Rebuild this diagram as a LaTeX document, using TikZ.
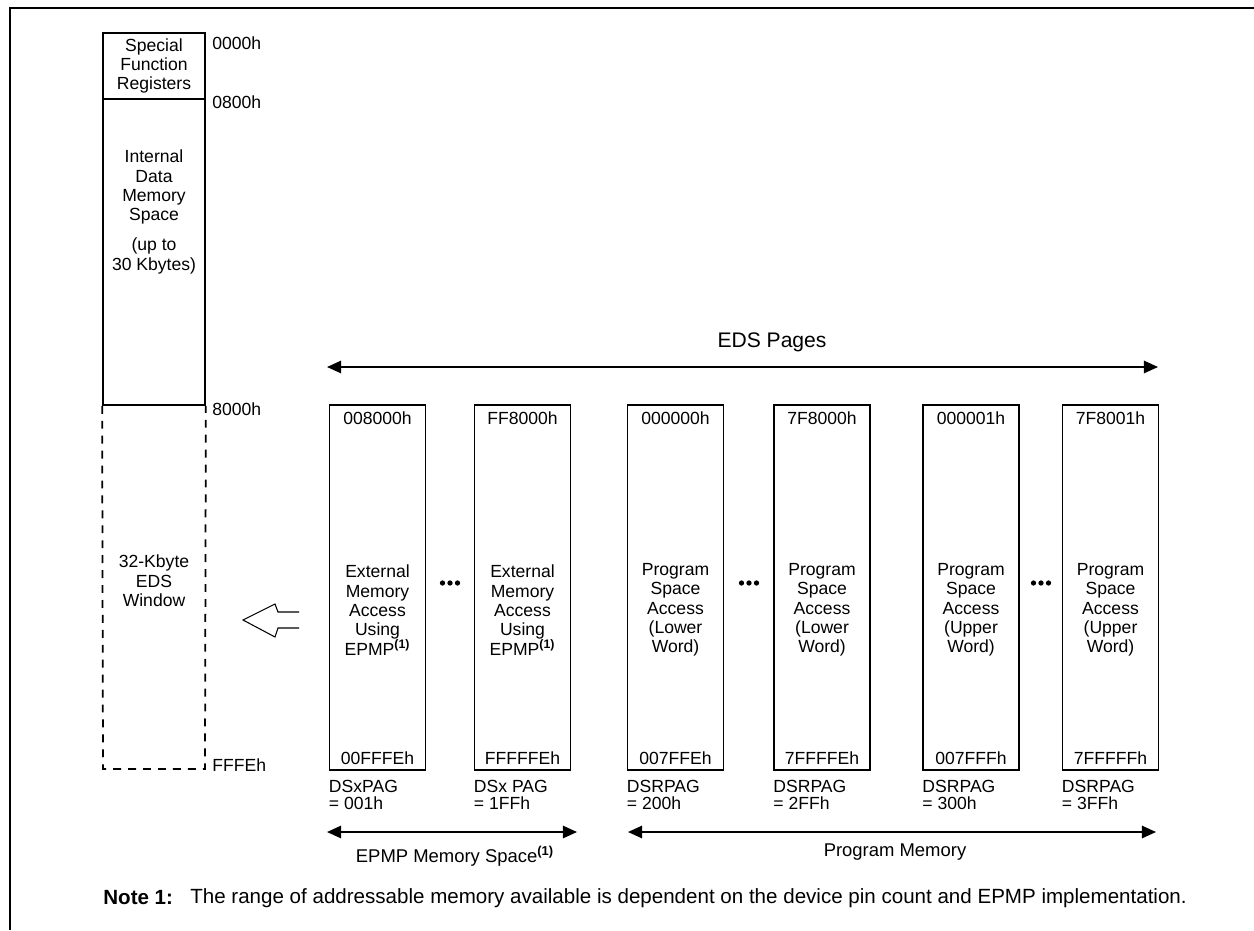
\documentclass[tikz,border=0pt]{standalone}
\usepackage{fontspec}
\setmainfont{Liberation Sans}
\usetikzlibrary{arrows.meta,positioning}

\tikzset{
  memblock/.style={draw, line width=1pt, minimum width=1.92cm, minimum height=7.3cm, inner sep=0pt},
  datablock/.style={draw, line width=1pt, minimum width=2.04cm, inner sep=0pt},
  addr/.style={inner sep=0pt, font=\fontsize{10}{11}\selectfont},
  blocktext/.style={align=center, inner sep=0pt, font=\fontsize{10}{11}\selectfont},
  regtext/.style={align=left, inner sep=0pt, anchor=north west, font=\fontsize{10}{9.8}\selectfont},
  pagespan/.style={line width=1.1pt, {Triangle[length=8pt,width=7pt]}-{Triangle[length=8pt,width=7pt]}},
  spantext/.style={inner sep=0pt, font=\fontsize{10.5}{12}\selectfont},
}

\begin{document}
\begin{tikzpicture}[x=0.02cm,y=-0.02cm]
  \useasboundingbox (0,0) rectangle (1254,930);
  % frame
  \draw[line width=1.2pt] (10,930) -- (10,8) -- (1254,8);

  % data memory
  \node[datablock, minimum height=1.32cm] (sfr) at (154,66) {};
  \node[blocktext] (sfrtext) at (sfr) {Special\\Function\\Registers};
  \node[datablock, minimum height=6.12cm] (intmem) at (154,252) {};
  \node[blocktext] (intmemtext) at (154,212) {Internal\\Data\\Memory\\Space\\[6pt](up to\\30 Kbytes)};
  \draw[line width=1pt, dash pattern=on 4.5pt off 4pt] (intmem.south west) -- (103,769) -- (205,769) -- (intmem.south east);
  \node[blocktext] (window) at (154,581) {32-Kbyte\\EDS\\Window};

  \node[addr, anchor=west] (a0000) at (212,43) {0000h};
  \node[addr, anchor=west] (a0800) at (212,102) {0800h};
  \node[addr, anchor=west] (a8000) at (212,409) {8000h};
  \node[addr, anchor=west] (afffe) at (212,765) {FFFEh};

  % open arrow into the window
  \draw[line width=0.6pt] (299,612) -- (278,612) -- (275,604) -- (243,620) -- (275,637) -- (278,628) -- (299,628);

  % EDS pages
  \foreach \px/\pname/\ptop/\pbot/\ptxt/\preg in {
    377.5/epmpA/008000h/00FFFEh/{External\\Memory\\Access\\Using\\EPMP\textsuperscript{\bfseries(1)}}/{DSxPAG\\= 001h},
    522.5/epmpB/FF8000h/FFFFFEh/{External\\Memory\\Access\\Using\\EPMP\textsuperscript{\bfseries(1)}}/{DSx PAG\\= 1FFh},
    675.5/lowA/000000h/007FFEh/{Program\\Space\\Access\\(Lower\\Word)}/{DSRPAG\\= 200h},
    822/lowB/7F8000h/7FFFFEh/{Program\\Space\\Access\\(Lower\\Word)}/{DSRPAG\\= 2FFh},
    971/upA/000001h/007FFFh/{Program\\Space\\Access\\(Upper\\Word)}/{DSRPAG\\= 300h},
    1110.5/upB/7F8001h/7FFFFFh/{Program\\Space\\Access\\(Upper\\Word)}/{DSRPAG\\= 3FFh}}{
    \node[memblock] (\pname) at (\px,587.5) {};
    \node[addr] (\pname-hi) at (\px,418) {\ptop};
    \node[addr] (\pname-lo) at (\px,758) {\pbot};
    \node[blocktext] (\pname-txt) at (\px,610) {\ptxt};
    \node[regtext] (\pname-reg) at ([yshift=-5pt]\pname.south west) {\preg};
  }
  \foreach \dx in {450,749,1041}
    \foreach \dd in {-7.5,0,7.5}
      \fill (\dx+\dd,583) circle (1.5pt);

  % spans
  \coordinate (edsL) at (327,367);
  \coordinate (edsR) at (1158,367);
  \draw[pagespan] (edsL) -- (edsR);
  \node[spantext, font=\fontsize{12}{13}\selectfont] (edstext) at (772,342) {EDS Pages};

  \coordinate (epmpL) at (327,832);
  \coordinate (epmpR) at (577,832);
  \draw[pagespan] (epmpL) -- (epmpR);
  \node[spantext] (epmptext) at (455,856) {EPMP Memory Space\textsuperscript{\bfseries(1)}};

  \coordinate (progL) at (628,832);
  \coordinate (progR) at (1156,832);
  \draw[pagespan] (progL) -- (progR);
  \node[spantext] (progtext) at (895,852) {Program Memory};

  % note
  \node[anchor=west, inner sep=0pt, font=\bfseries\fontsize{11.7}{13}\selectfont] (note) at (103,898) {Note 1:};
  \node[anchor=west, inner sep=0pt, font=\fontsize{11.7}{13}\selectfont] (notetext) at (190,898) {The range of addressable memory available is dependent on the device pin count and EPMP implementation.};
\end{tikzpicture}
\end{document}
